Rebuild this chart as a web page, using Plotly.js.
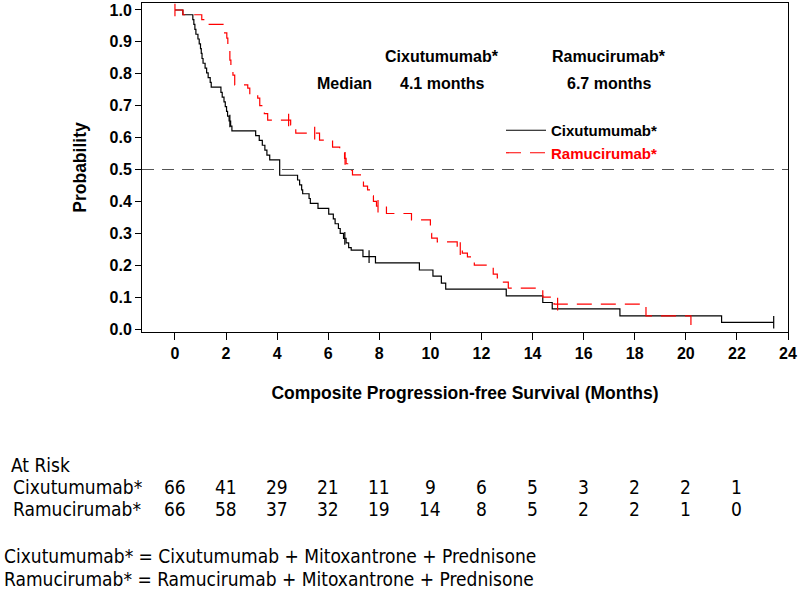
<!DOCTYPE html>
<html>
<head>
<meta charset="utf-8">
<script src="https://cdn.plot.ly/plotly-3.0.1.min.js"></script>
<style>
  html, body { margin: 0; padding: 0; background: #fff; }
  #chart { width: 800px; height: 589px; }
</style>
</head>
<body>
<div id="chart"></div>
<script>
// ---- Data ----
const cixTime = [0, 0.31, 0.70, 0.74, 0.78, 0.82, 0.90, 0.95, 1.00, 1.03, 1.06, 1.10, 1.18, 1.24, 1.30, 1.38, 1.42,
  1.80, 1.85, 1.92, 1.97, 2.02, 2.06, 2.12, 2.18, 2.23, 3.16, 3.30, 3.42, 3.52, 3.60, 3.71, 4.10,
  4.80, 4.88, 4.96, 5.00, 5.25, 5.30, 5.60, 6.02, 6.20, 6.27, 6.40, 6.47, 6.60, 6.70, 6.80, 6.90,
  7.36, 7.85, 9.57, 10.10, 10.43, 10.60, 12.97, 14.40, 14.77, 17.42, 21.40, 23.44];
const cixSurv = [1.0, 0.985, 0.970, 0.955, 0.939, 0.924, 0.909, 0.894, 0.879, 0.864, 0.848, 0.833, 0.818, 0.803, 0.788, 0.773, 0.758,
  0.742, 0.727, 0.712, 0.697, 0.682, 0.667, 0.652, 0.636, 0.621, 0.606, 0.591, 0.576, 0.561, 0.545, 0.530, 0.482,
  0.467, 0.452, 0.436, 0.424, 0.409, 0.394, 0.378, 0.360, 0.345, 0.330, 0.315, 0.300, 0.284, 0.270, 0.255, 0.247,
  0.227, 0.207, 0.185, 0.166, 0.144, 0.125, 0.104, 0.083, 0.063, 0.041, 0.021, 0.021];
const cixCensor = [2.15, 6.65, 7.60, 23.44];

const ramTime = [0, 0.31, 1.05, 1.29, 1.91, 2.03, 2.07, 2.11, 2.15, 2.19, 2.27, 2.34, 2.85, 2.93, 3.24, 3.32, 3.40, 3.50, 3.63,
  4.53, 4.58, 4.73, 5.66, 6.17, 6.45, 6.64, 6.70, 6.76, 6.95, 7.38, 7.54, 7.66, 7.77, 7.89, 8.28, 9.26,
  10.00, 10.05, 10.27, 11.05, 11.25, 11.45, 11.72, 12.46, 12.62, 12.70, 13.05, 14.40, 14.84, 18.44, 20.20];
const ramSurv = [1.0, 0.985, 0.970, 0.955, 0.928, 0.912, 0.890, 0.875, 0.843, 0.820, 0.796, 0.765, 0.755, 0.733, 0.724, 0.700, 0.690, 0.675, 0.655,
  0.640, 0.628, 0.614, 0.592, 0.570, 0.555, 0.535, 0.518, 0.498, 0.483, 0.448, 0.436, 0.417, 0.400, 0.385, 0.362, 0.342,
  0.300, 0.285, 0.273, 0.252, 0.238, 0.226, 0.200, 0.172, 0.160, 0.147, 0.128, 0.100, 0.078, 0.041, 0.0];
const ramCensor = [0, 4.45, 5.47, 6.66, 7.95, 11.17, 14.98];

const xTicks = [0, 2, 4, 6, 8, 10, 12, 14, 16, 18, 20, 22, 24];
const riskTimes = [0, 2, 4, 6, 8, 10, 12, 14, 16, 18, 20, 22];
const cixRisk = [66, 41, 29, 21, 11, 9, 6, 5, 3, 2, 2, 1];
const ramRisk = [66, 58, 37, 32, 19, 14, 8, 5, 2, 2, 1, 0];

const cixName = 'Cixutumumab*';
const ramName = 'Ramucirumab*';
const medianCix = '4.1 months';
const medianRam = '6.7 months';
const footCix = 'Cixutumumab* = Cixutumumab + Mitoxantrone + Prednisone';
const footRam = 'Ramucirumab* = Ramucirumab + Mitoxantrone + Prednisone';

// ---- Helpers ----
function stepValue(times, surv, t) {
  let v = surv[0];
  for (let i = 0; i < times.length; i++) { if (times[i] <= t + 1e-9) v = surv[i]; }
  return v;
}

const RED = '#ff0000';
const SANS = 'Liberation Sans, Arial, sans-serif';
const TICK = {family: SANS, size: 16, color: '#000', weight: 'bold'};
const LEG = {family: SANS, size: 15, color: '#000', weight: 'bold'};
const TITLE = {family: SANS, size: 17.5, color: '#000', weight: 'bold'};
const MED = {family: SANS, size: 16, color: '#000', weight: 'bold'};
const NARROW = '"DejaVu Sans Condensed", "Liberation Sans Narrow", sans-serif';

const traces = [
  {x: cixTime, y: cixSurv, type: 'scatter', mode: 'lines', line: {shape: 'hv', color: '#000', width: 1.2},
   name: cixName, hoverinfo: 'x+y'},
  {x: ramTime, y: ramSurv, type: 'scatter', mode: 'lines', line: {shape: 'hv', color: RED, width: 1.2, dash: '15px,9px'},
   name: '<span style="color:' + RED + '">' + ramName + '</span>', hoverinfo: 'x+y'},
  {x: cixCensor, y: cixCensor.map(t => stepValue(cixTime, cixSurv, t)), type: 'scatter', mode: 'markers',
   marker: {symbol: 'line-ns-open', size: 9, color: '#000', line: {color: '#000', width: 1.2}}, showlegend: false, hoverinfo: 'skip'},
  {x: ramCensor, y: ramCensor.map(t => stepValue(ramTime, ramSurv, t)), type: 'scatter', mode: 'markers',
   marker: {symbol: 'line-ns-open', size: 9, color: RED, line: {color: RED, width: 1.2}}, showlegend: false, hoverinfo: 'skip'}
];

// ---- Annotations ----
const PL = 142, PB = 332, W = 646, H = 329;
function pxX(px) { return (px - PL) / W; }
function pxY(py) { return (PB - py) / H; }

const ann = [];
const yMed1 = 0.853, yMed2 = 0.771;
ann.push({x: 6.64, y: yMed2, xref: 'x', yref: 'y', text: 'Median', showarrow: false, font: MED});
ann.push({x: 10.47, y: yMed1, xref: 'x', yref: 'y', text: cixName, showarrow: false, font: MED});
ann.push({x: 10.47, y: yMed2, xref: 'x', yref: 'y', text: medianCix, showarrow: false, font: MED});
ann.push({x: 17.0, y: yMed1, xref: 'x', yref: 'y', text: ramName, showarrow: false, font: MED});
ann.push({x: 17.0, y: yMed2, xref: 'x', yref: 'y', text: medianRam, showarrow: false, font: MED});

const tblFont = {family: NARROW, size: 19, color: '#000'};
ann.push({x: pxX(9), xref: 'paper', xanchor: 'left', y: pxY(465), yref: 'paper', yanchor: 'middle', text: 'At Risk', showarrow: false, font: tblFont});
ann.push({x: pxX(11), xref: 'paper', xanchor: 'left', y: pxY(487), yref: 'paper', yanchor: 'middle', text: cixName, showarrow: false, font: tblFont});
ann.push({x: pxX(11), xref: 'paper', xanchor: 'left', y: pxY(509), yref: 'paper', yanchor: 'middle', text: ramName, showarrow: false, font: tblFont});
riskTimes.forEach((t, i) => {
  ann.push({x: t, xref: 'x', y: pxY(487), yref: 'paper', yanchor: 'middle', text: String(cixRisk[i]), showarrow: false, font: tblFont});
  ann.push({x: t, xref: 'x', y: pxY(509), yref: 'paper', yanchor: 'middle', text: String(ramRisk[i]), showarrow: false, font: tblFont});
});
ann.push({x: pxX(2), xref: 'paper', xanchor: 'left', y: pxY(556), yref: 'paper', yanchor: 'middle', text: footCix, showarrow: false, font: tblFont});
ann.push({x: pxX(2), xref: 'paper', xanchor: 'left', y: pxY(579), yref: 'paper', yanchor: 'middle', text: footRam, showarrow: false, font: tblFont});

const layout = {
  width: 800, height: 589,
  margin: {l: PL, r: 12, t: 3, b: 589 - PB},
  paper_bgcolor: '#fff', plot_bgcolor: '#fff',
  showlegend: true,
  legend: {x: pxX(501), y: pxY(114), xanchor: 'left', yanchor: 'top', bgcolor: 'rgba(0,0,0,0)',
           font: LEG, itemwidth: 40, tracegroupgap: 0},
  xaxis: {range: [-1.29, 24], tickvals: xTicks, ticktext: xTicks.map(String), ticks: 'outside', ticklen: 7, tickwidth: 1,
          tickcolor: '#000', showline: true, mirror: true, linecolor: '#000', linewidth: 1,
          showgrid: false, zeroline: false, tickfont: TICK,
          title: {text: 'Composite Progression-free Survival (Months)', font: TITLE, standoff: 25}, automargin: true},
  yaxis: {range: [-0.0094, 1.0219], tick0: 0, dtick: 0.1, tickformat: '.1f', ticks: 'outside', ticklen: 6, tickwidth: 1,
          tickcolor: '#000', showline: true, mirror: true, linecolor: '#000', linewidth: 1,
          showgrid: false, zeroline: false, tickfont: TICK,
          title: {text: 'Probability', font: TITLE, standoff: 18}, automargin: true},
  shapes: [{type: 'line', xref: 'paper', x0: 0, x1: 1, yref: 'y', y0: 0.5, y1: 0.5,
            line: {color: '#555', width: 1.2, dash: '12px,8px'}}],
  annotations: ann
};

Plotly.newPlot('chart', traces, layout, {displayModeBar: false, staticPlot: true});
</script>
</body>
</html>
